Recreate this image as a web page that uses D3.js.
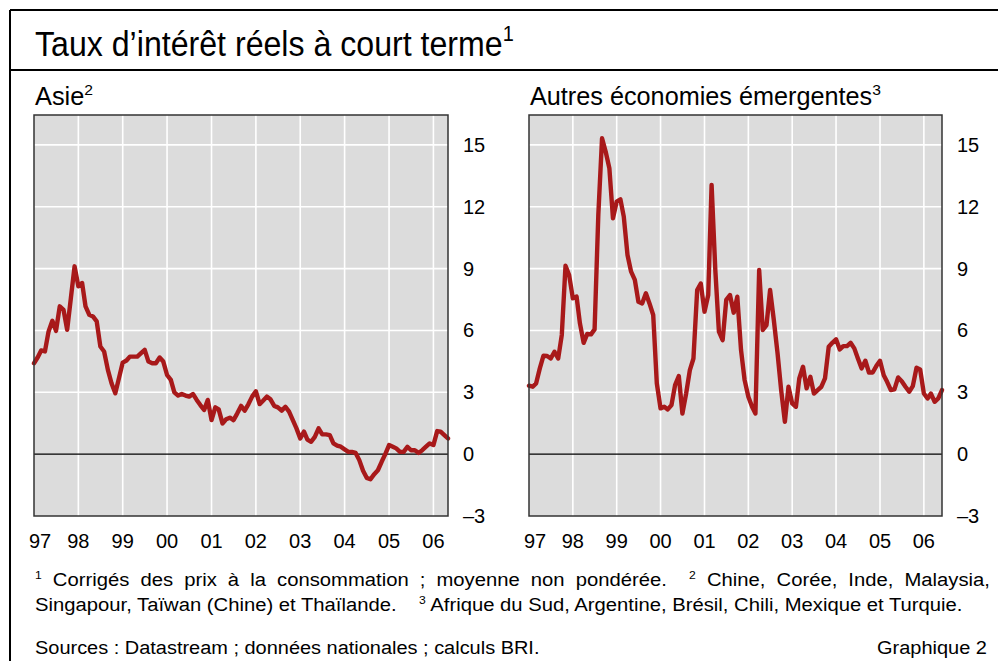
<!DOCTYPE html>
<html>
<head>
<meta charset="utf-8">
<script src="https://cdn.jsdelivr.net/npm/d3@7"></script>
<style>
  body { margin: 0; background: #fff; }
  text { font-family: "Liberation Sans", Arial, sans-serif; fill: #000; }
</style>
</head>
<body>
<svg id="chart"></svg>
<script>
// Monthly series, January 1997 onwards (% real rates)
const yearLabels = ["97", "98", "99", "00", "01", "02", "03", "04", "05", "06"];
const yTicks = [-3, 0, 3, 6, 9, 12, 15];

const asie = [
  4.41, 4.7, 5.03, 4.98, 5.95, 6.47, 5.98, 7.17, 7.0, 6.03, 7.6, 9.11,
  8.14, 8.3, 7.17, 6.76, 6.68, 6.44, 5.22, 4.98, 4.09, 3.44, 2.95, 3.68,
  4.44, 4.54, 4.73, 4.73, 4.73, 4.9, 5.06, 4.49, 4.41, 4.41, 4.69, 4.49,
  3.84, 3.6, 3.0, 2.84, 2.92, 2.84, 2.79, 2.92, 2.63, 2.38, 2.14, 2.63,
  1.65, 2.27, 2.17, 1.49, 1.69, 1.77, 1.65, 1.98, 2.34, 2.11, 2.43, 2.79,
  3.05, 2.43, 2.59, 2.79, 2.66, 2.34, 2.27, 2.11, 2.3, 2.06, 1.65, 1.25,
  0.76, 1.09, 0.71, 0.6, 0.84, 1.25, 0.96, 0.96, 0.92, 0.52, 0.41, 0.36,
  0.23, 0.11, 0.11, 0.06, -0.29, -0.81, -1.15, -1.22, -0.97, -0.78, -0.37, 0.0,
  0.44, 0.36, 0.28, 0.11, 0.11, 0.36, 0.19, 0.19, 0.06, 0.19, 0.36, 0.52,
  0.44, 1.12, 1.09, 0.92, 0.76
];

const autres = [
  3.32, 3.27, 3.43, 4.16, 4.77, 4.76, 4.64, 4.97, 4.64, 5.78, 9.14, 8.69,
  7.56, 7.64, 6.34, 5.4, 5.83, 5.81, 6.05, 11.6, 15.32, 14.68, 13.87, 11.44,
  12.25, 12.36, 11.52, 9.66, 8.85, 8.45, 7.39, 7.31, 7.8, 7.31, 6.75, 3.43,
  2.22, 2.3, 2.17, 2.38, 3.35, 3.79, 1.97, 2.94, 4.08, 4.64, 7.96, 8.28,
  6.91, 7.72, 13.06, 8.93, 5.94, 5.53, 7.48, 7.72, 6.86, 7.64, 5.05, 3.59,
  2.78, 2.3, 1.97, 8.93, 6.02, 6.26, 7.96, 6.5, 4.89, 3.11, 1.57, 3.27,
  2.46, 2.3, 3.67, 4.24, 3.19, 3.75, 2.94, 3.11, 3.27, 3.67, 5.21, 5.4,
  5.57, 5.08, 5.24, 5.24, 5.4, 5.13, 4.64, 4.16, 4.53, 3.96, 3.96, 4.27,
  4.53, 3.83, 3.51, 3.11, 3.14, 3.72, 3.54, 3.27, 3.03, 3.3, 4.19, 4.11,
  2.94, 2.7, 2.94, 2.54, 2.7, 3.11
];

const W = 998, H = 661;
const lineColor = "#a8191a";
const start = new Date(1997, 0, 1);

const svg = d3.select("#chart")
    .attr("width", W)
    .attr("height", H);

// Outer frame
svg.append("line").attr("x1", 10).attr("x2", W).attr("y1", 10).attr("y2", 10)
    .attr("stroke", "#000").attr("stroke-width", 2);
svg.append("line").attr("x1", 10).attr("x2", 10).attr("y1", 10).attr("y2", H)
    .attr("stroke", "#000").attr("stroke-width", 2);
svg.append("line").attr("x1", 10).attr("x2", W).attr("y1", 70).attr("y2", 70)
    .attr("stroke", "#000").attr("stroke-width", 2);

// squeeze a text horizontally so it spans a given width
function fitWidth(sel, x, y, width) {
    const w = sel.node().getBBox().width;
    sel.attr("transform", `translate(${x},${y}) scale(${width / w},1)`);
    return width / w;
}

function addTitle(x, y, size, main, sup, width) {
    const t = svg.append("text").attr("font-size", size);
    t.append("tspan").text(main);
    t.append("tspan").attr("font-size", size * 0.62).attr("dy", -size * 0.42).text(sup);
    fitWidth(t, x, y, width);
}

addTitle(35, 56, 35, "Taux d\u2019intérêt réels à court terme", "1", 479);

function panel(x0, x1, values, title, sup, titleWidth) {
    const y0 = 115, y1 = 516;
    const dates = values.map((d, i) => d3.timeMonth.offset(start, i));

    const x = d3.scaleTime()
        .domain([start, dates[dates.length - 1]])
        .range([x0, x1]);
    const y = d3.scaleLinear()
        .domain([-3, 16.45])
        .range([y1, y0]);

    const g = svg.append("g");

    g.append("rect")
        .attr("x", x0).attr("y", y0)
        .attr("width", x1 - x0).attr("height", y1 - y0)
        .attr("fill", "#dcdcdc");

    const yearDates = yearLabels.map((d, i) => new Date(1997 + i, 0, 1));

    // vertical grid
    g.selectAll(".vgrid")
        .data(yearDates.slice(1))
        .enter().append("line")
        .attr("x1", d => x(d)).attr("x2", d => x(d))
        .attr("y1", y0).attr("y2", y1)
        .attr("stroke", "#fff").attr("stroke-width", 1.6);

    // horizontal grid
    g.selectAll(".hgrid")
        .data(yTicks.filter(d => d > 0))
        .enter().append("line")
        .attr("x1", x0).attr("x2", x1)
        .attr("y1", d => y(d)).attr("y2", d => y(d))
        .attr("stroke", "#fff").attr("stroke-width", 1.6);

    // zero line
    g.append("line")
        .attr("x1", x0).attr("x2", x1)
        .attr("y1", y(0)).attr("y2", y(0))
        .attr("stroke", "#000").attr("stroke-width", 1.2);

    const line = d3.line()
        .x((d, i) => x(dates[i]))
        .y(d => y(d));

    g.append("path")
        .datum(values)
        .attr("d", line)
        .attr("fill", "none")
        .attr("stroke", lineColor)
        .attr("stroke-width", 4.4)
        .attr("stroke-linejoin", "round")
        .attr("stroke-linecap", "round");

    g.append("rect")
        .attr("x", x0).attr("y", y0)
        .attr("width", x1 - x0).attr("height", y1 - y0)
        .attr("fill", "none")
        .attr("stroke", "#333").attr("stroke-width", 1.5);

    // right axis labels
    g.selectAll(".ylab")
        .data(yTicks)
        .enter().append("text")
        .attr("x", x1 + 15)
        .attr("y", d => y(d) + 7)
        .attr("font-size", 20)
        .text(d => d < 0 ? "\u2013" + Math.abs(d) : d);

    // year labels
    g.selectAll(".xlab")
        .data(yearDates)
        .enter().append("text")
        .attr("x", (d, i) => i === 0 ? x(d) + 6 : x(d))
        .attr("y", 548)
        .attr("text-anchor", "middle")
        .attr("font-size", 20)
        .text((d, i) => yearLabels[i]);

    addTitle(x0 + 1, 105, 25, title, sup, titleWidth);
}

panel(34, 448, asie, "Asie", "2", 58);
panel(529, 942, autres, "Autres économies émergentes", "3", 351);

// footnotes
const fs = 19;
function note(parts) {
    const t = svg.append("text").attr("font-size", fs);
    parts.forEach(p => {
        if (p.sup) {
            t.append("tspan").attr("font-size", fs * 0.6).attr("dy", -7).text(p.sup);
        } else {
            t.append("tspan").attr("dy", p.after ? 7 : 0).text(p.text);
        }
    });
    return t;
}

const line2 = note([
    { text: "Singapour, Taïwan (Chine) et Thaïlande.\u00a0\u00a0\u00a0 " },
    { sup: "3" },
    { text: " Afrique du Sud, Argentine, Brésil, Chili, Mexique et Turquie.", after: true }
]);
const k = fitWidth(line2, 35, 611, 928);

const line1 = note([
    { sup: "1" },
    { text: " Corrigés des prix à la consommation ; moyenne non pondérée.\u00a0 ", after: true },
    { sup: "2" },
    { text: " Chine, Corée, Inde, Malaysia,", after: true }
]);
const w1 = line1.node().getBBox().width;
const spaces = (line1.text().match(/ /g) || []).length;
line1.attr("word-spacing", (950 / k - w1) / spaces)
    .attr("transform", `translate(35,586) scale(${k},1)`);

const src = svg.append("text").attr("font-size", fs)
    .text("Sources : Datastream ; données nationales ; calculs BRI.");
fitWidth(src, 35, 654, 505);

const gr = svg.append("text").attr("font-size", fs).text("Graphique 2");
fitWidth(gr, 877, 654, 110);
</script>
</body>
</html>
